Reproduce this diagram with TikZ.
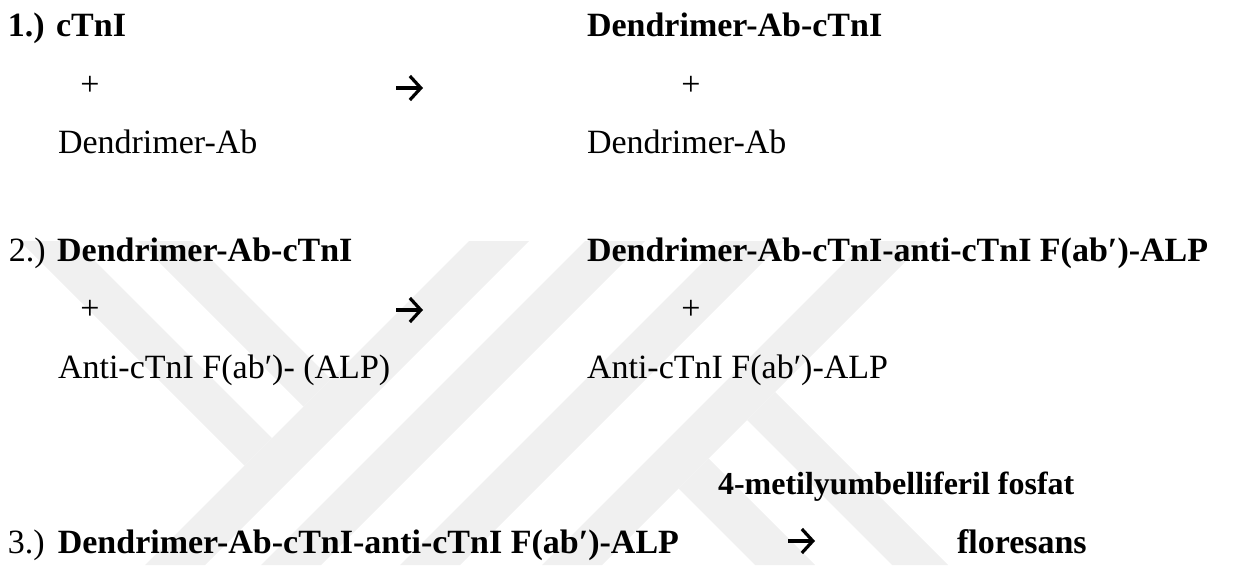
\documentclass[tikz,border=0pt]{standalone}
\usepackage{fontspec}
\setmainfont{Liberation Serif}
\usetikzlibrary{arrows.meta}
\begin{document}
\begin{tikzpicture}[x=1pt,y=-1pt,
  txt/.style={inner sep=0pt, outer sep=0pt, anchor=base west,
              font=\fontsize{34}{40}\selectfont},
  plus/.style={inner sep=0pt, outer sep=0pt, anchor=base,
              font=\fontsize{34}{40}\selectfont},
  small/.style={inner sep=0pt, outer sep=0pt, anchor=base west,
              font=\fontsize{32}{38}\selectfont\bfseries},
  yields/.style={line width=3.2pt,
              -{Straight Barb[length=11pt,width=24pt,line width=3.2pt]}},
  wm/.style={fill=black!6, draw=none}]
\useasboundingbox (0,0) rectangle (1242,565);

% background emblem made of light diagonal bands
\begin{scope}
  \clip (0,241) rectangle (1242,565);
  \fill[wm] (469,241) -- (529,241) -- (205,565) -- (145,565) -- cycle;
  \fill[wm] (585,241) -- (645,241) -- (321,565) -- (261,565) -- cycle;
  \fill[wm] (724,241) -- (784,241) -- (460,565) -- (400,565) -- cycle;
  \fill[wm] (866,241) -- (926,241) -- (602,565) -- (542,565) -- cycle;
  \fill[wm] (20,241) -- (75,241) -- (272,438) -- (244.5,465.5) -- cycle;
  \fill[wm] (138,241) -- (193,241) -- (331,379) -- (303.5,406.5) -- cycle;
  \fill[wm] (747,420) -- (775,392) -- (948,565) -- (892,565) -- cycle;
  \fill[wm] (678.5,488.5) -- (708.5,458.5) -- (815,565) -- (755,565) -- cycle;
\end{scope}

% reaction 1
\node[txt] (r1a) at (8,36) {\textbf{1.) cTnI}};
\node[plus] (r1p) at (90,95) {+};
\node[txt] (r1b) at (58,153) {Dendrimer-Ab};
\node[txt] (r1c) at (587,36) {\textbf{Dendrimer-Ab-cTnI}};
\node[plus] (r1q) at (691,95) {+};
\node[txt] (r1d) at (587,153) {Dendrimer-Ab};
\coordinate (y1s) at (396,88);
\coordinate (y1e) at (423,88);
\draw[yields] (y1s) -- (y1e);

% reaction 2
\node[txt] (r2a) at (9,261) {2.) \textbf{Dendrimer-Ab-cTnI}};
\node[plus] (r2p) at (90,319) {+};
\node[txt] (r2b) at (58,378) {Anti-cTnI F(ab′)- (ALP)};
\node[txt] (r2c) at (587,261) {\textbf{Dendrimer-Ab-cTnI-anti-cTnI F(ab′)-ALP}};
\node[plus] (r2q) at (691,319) {+};
\node[txt] (r2d) at (587,378) {Anti-cTnI F(ab′)-ALP};
\coordinate (y2s) at (396,310);
\coordinate (y2e) at (423,310);
\draw[yields] (y2s) -- (y2e);

% reaction 3
\node[small] (r3s) at (718,494) {4-metilyumbelliferil fosfat};
\node[txt] (r3a) at (8,553) {3.)\hspace{13pt}\textbf{Dendrimer-Ab-cTnI-anti-cTnI F(ab′)-ALP}};
\node[txt] (r3b) at (957,553) {\textbf{floresans}};
\coordinate (y3s) at (788,541);
\coordinate (y3e) at (815,541);
\draw[yields] (y3s) -- (y3e);
\end{tikzpicture}
\end{document}
